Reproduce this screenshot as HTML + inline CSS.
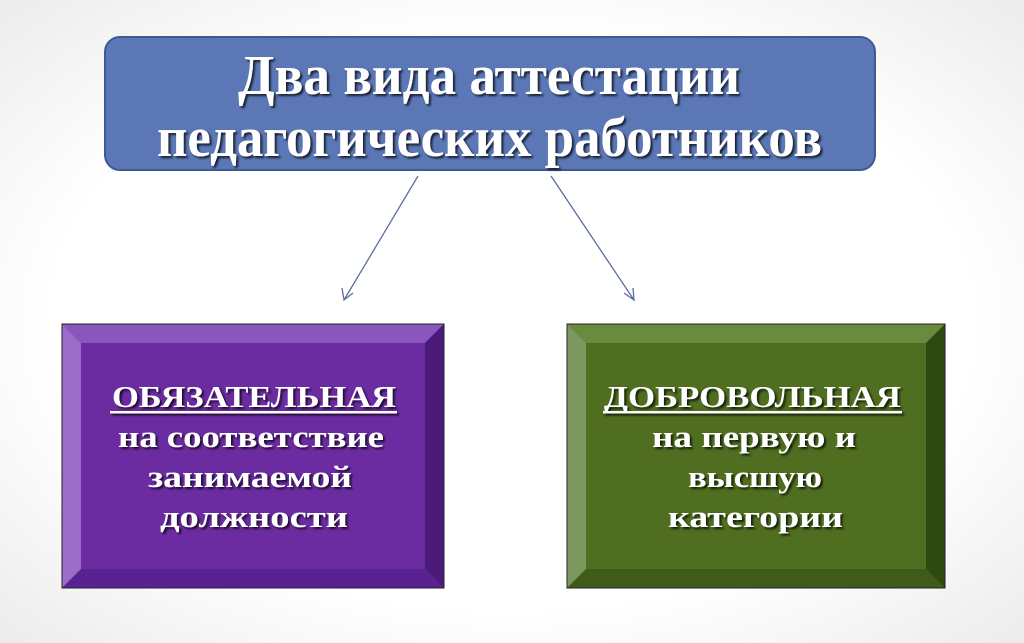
<!DOCTYPE html>
<html><head><meta charset="utf-8"><style>
html,body{margin:0;padding:0;background:#fff;}
svg{display:block}
text{font-family:"Liberation Serif","DejaVu Serif",serif;font-weight:bold;fill:#fff;}
</style></head><body>
<svg width="1024" height="643" viewBox="0 0 1024 643" xmlns="http://www.w3.org/2000/svg">
<defs>
<radialGradient id="bg" cx="50%" cy="50%" r="75%"><stop offset="0.6" stop-color="#ffffff"/><stop offset="1" stop-color="#e8e8e8"/></radialGradient>
<filter id="sh" x="-10%" y="-10%" width="120%" height="130%"><feDropShadow dx="2" dy="2" stdDeviation="1" flood-color="#000" flood-opacity="0.75"/></filter>
</defs>
<rect width="1024" height="643" fill="url(#bg)"/>
<rect x="105" y="37" width="770" height="133" rx="15" fill="#5b77b6" stroke="#3e5a94" stroke-width="2"/>
<g filter="url(#sh)">
<text x="238" y="94" font-size="56" textLength="502" lengthAdjust="spacingAndGlyphs">Два вида аттестации</text>
<text x="157" y="156" font-size="56" textLength="665" lengthAdjust="spacingAndGlyphs">педагогических работников</text>
</g>
<g stroke="#5a6fa0" stroke-width="1.3" fill="none">
<line x1="418" y1="176" x2="344" y2="300"/>
<polyline points="342,288 344,300 353,293"/>
<line x1="551" y1="176" x2="634" y2="300"/>
<polyline points="624,293 634,300 633,288"/>
</g>
<g>
<rect x="62" y="324" width="382" height="264" fill="#6b2ca2"/>
<polygon points="62,324 444,324 425,343 81,343" fill="#8a55bc"/>
<polygon points="62,324 81,343 81,569 62,588" fill="#9a6dc9"/>
<polygon points="444,324 444,588 425,569 425,343" fill="#4b1b7a"/>
<polygon points="62,588 81,569 425,569 444,588" fill="#5a2290"/>
<rect x="62" y="324" width="382" height="264" fill="none" stroke="#222" stroke-width="1"/>
</g>
<g>
<rect x="567" y="324" width="378" height="264" fill="#4f6e1f"/>
<polygon points="567,324 945,324 926,343 586,343" fill="#6a8a3e"/>
<polygon points="567,324 586,343 586,569 567,588" fill="#7d9960"/>
<polygon points="945,324 945,588 926,569 926,343" fill="#2f4a10"/>
<polygon points="567,588 586,569 926,569 945,588" fill="#3e5b19"/>
<rect x="567" y="324" width="378" height="264" fill="none" stroke="#222" stroke-width="1"/>
</g>
<g filter="url(#sh)" font-size="31">
<text x="112" y="407" font-size="31" textLength="284" lengthAdjust="spacingAndGlyphs">ОБЯЗАТЕЛЬНАЯ</text>
<rect x="110" y="411" width="287" height="2.5" fill="#fff"/>
<text x="118" y="447" font-size="31" textLength="266" lengthAdjust="spacingAndGlyphs">на соответствие</text>
<text x="148" y="487" font-size="31" textLength="204" lengthAdjust="spacingAndGlyphs">занимаемой</text>
<text x="160" y="527" font-size="31" textLength="188" lengthAdjust="spacingAndGlyphs">должности</text>
<text x="604" y="407" font-size="31" textLength="297" lengthAdjust="spacingAndGlyphs">ДОБРОВОЛЬНАЯ</text>
<rect x="603" y="411" width="299" height="2.5" fill="#fff"/>
<text x="652" y="447" font-size="31" textLength="204" lengthAdjust="spacingAndGlyphs">на первую и</text>
<text x="688" y="487" font-size="31" textLength="134" lengthAdjust="spacingAndGlyphs">высшую</text>
<text x="668" y="527" font-size="31" textLength="175" lengthAdjust="spacingAndGlyphs">категории</text>
</g>
</svg>
</body></html>
